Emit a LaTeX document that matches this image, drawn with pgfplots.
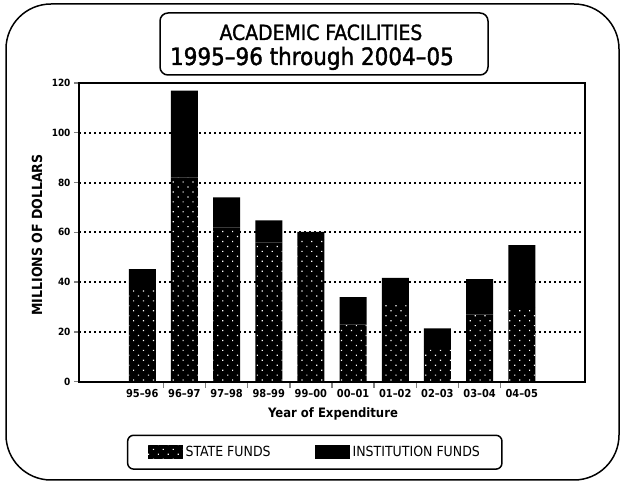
\documentclass[border=0pt]{standalone}
\usepackage{fontspec}
\setmainfont{DejaVu Sans Condensed}
\newfontface\titlefont{DejaVu Sans Condensed}[FakeBold=1.5, Ligatures=TeX]
\usepackage{pgfplots}
\pgfplotsset{compat=1.18}
\usetikzlibrary{patterns.meta}
\begin{document}
\begin{tikzpicture}
\path[use as bounding box] (0,0) rectangle (623bp,484bp);
\draw[line width=1.5bp, rounded corners=45bp] (6bp,4bp) rectangle (619bp,480bp);
\draw[line width=1.5bp, rounded corners=8bp] (160bp,409bp) rectangle (488bp,471bp);
\node[anchor=base, inner sep=0pt, font=\titlefont\fontsize{21}{24}\selectfont] at (321bp,444bp) {ACADEMIC FACILITIES};
\node[anchor=base, inner sep=0pt, font=\titlefont\fontsize{24}{26}\selectfont] at (312bp,419bp) {1995–96 through 2004–05};
\begin{axis}[
  at={(79bp,102.3bp)}, anchor=south west, scale only axis,
  width=506bp, height=298.7bp,
  xmin=-1.5, xmax=10.5, ymin=0, ymax=120,
  ybar stacked, bar width=27bp,
  axis line style={line width=1.6bp},
  xtick={0,...,9},
  xticklabels={95--96,96--97,97--98,98--99,99--00,00--01,01--02,02--03,03--04,04--05},
  minor xtick={0.5,1.5,...,8.5},
  major x tick style={draw=none},
  minor x tick style={line width=1.4bp},
  minor tick length=6bp,
  ytick={0,20,...,120},
  major y tick style={line width=1.4bp},
  major tick length=5bp,
  tick align=outside,
  xtick pos=bottom, ytick pos=left,
  /pgf/number format/assume math mode=true,
  xticklabel style={font=\bfseries\fontsize{11}{11}\selectfont, yshift=1bp},
  yticklabel style={font=\bfseries\fontsize{10}{10}\selectfont},
  ymajorgrids,
  grid style={black, line width=2bp, dash pattern=on 2bp off 3bp},
  xlabel={Year of Expenditure},
  ylabel={MILLIONS OF DOLLARS},
  every axis x label/.style={at={(axis description cs:0.502,-0.108)}, anchor=center, font=\bfseries\fontsize{13}{13}\selectfont},
  every axis y label/.style={at={(axis description cs:-0.083,0.491)}, anchor=center, rotate=90, font=\bfseries\fontsize{14}{14}\selectfont},
  legend columns=2,
  legend style={at={(axis description cs:0.466,-0.236)}, anchor=center,
    draw=black, line width=1.5bp, rounded corners=6bp,
    font=\fontsize{14}{14}\selectfont,
    inner xsep=20bp, inner ysep=9bp,
    /tikz/every odd column/.append style={column sep=1bp},
    /tikz/every even column/.append style={column sep=42bp}},
  legend image code/.code={\fill[#1, sharp corners] (0bp,-7bp) rectangle (35bp,7bp);},
]
\addplot[fill=black, draw=none, postaction={pattern={Dots[distance=7bp, radius=0.85bp, angle=45]}, pattern color=white}]
  coordinates {(0,38) (1,82) (2,62) (3,56) (4,57) (5,23) (6,32) (7,14) (8,27) (9,30)};
\addlegendentry{STATE FUNDS}
\addplot[fill=black, draw=none]
  coordinates {(0,7.2) (1,34.9) (2,12.1) (3,8.8) (4,3.2) (5,11.0) (6,9.7) (7,7.4) (8,14.2) (9,24.9)};
\addlegendentry{INSTITUTION FUNDS}
\end{axis}
\end{tikzpicture}
\end{document}
